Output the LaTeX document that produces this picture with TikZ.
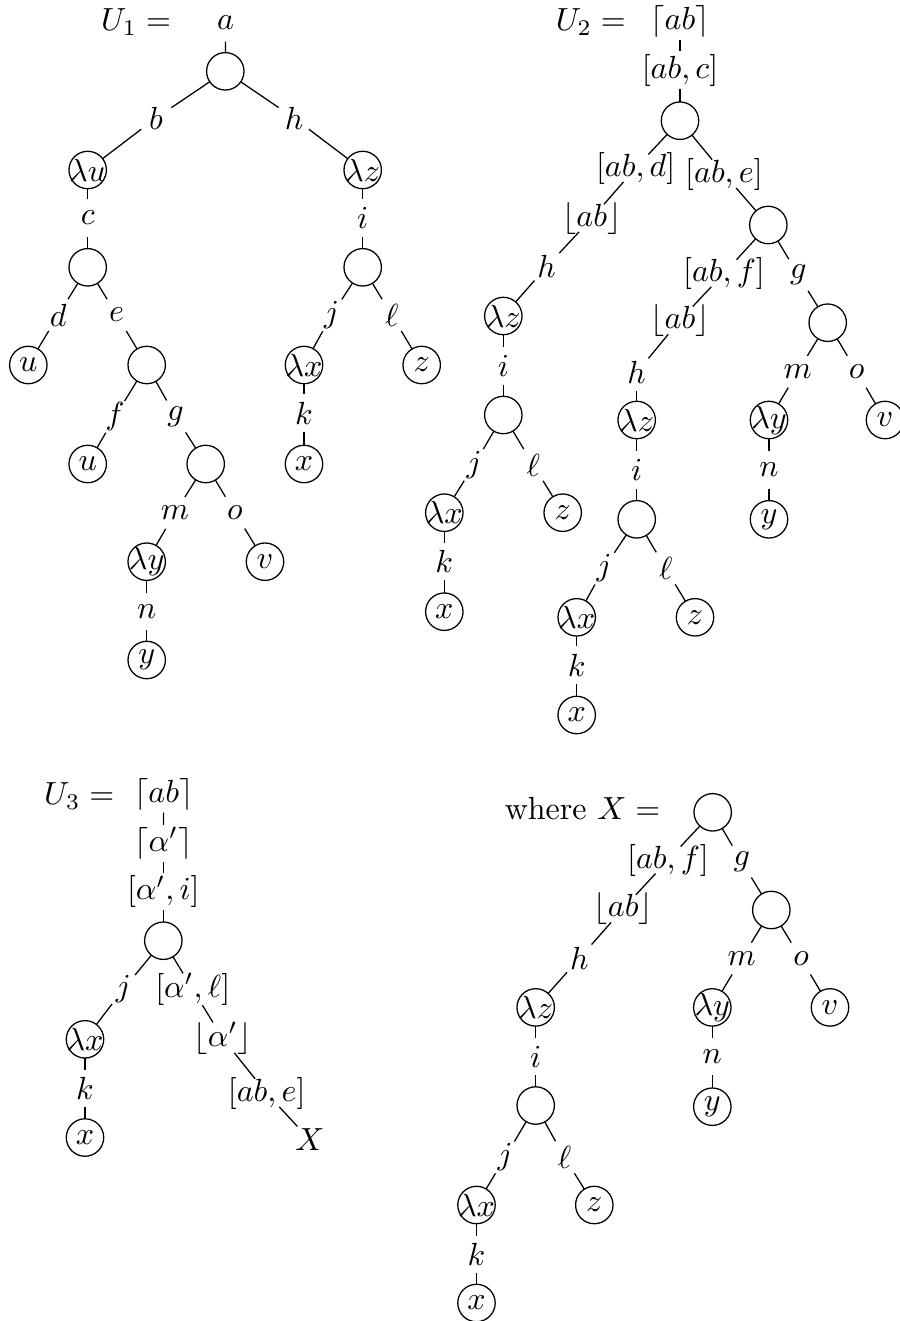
\documentclass[tikz,border=0pt]{standalone}
\usepackage{tikz}
\newcommand{\zw}[1]{\makebox[0pt]{$#1$}}
\tikzset{
  cn/.style={circle,draw,minimum size=11.7pt,inner sep=0pt},
  lb/.style={inner sep=0pt},
  edge/.style={shorten <=5.8pt,shorten >=5.8pt},
}
\begin{document}
\begin{tikzpicture}[x=0.3125pt,y=-0.3125pt]
\useasboundingbox (0,0) rectangle (899,1321);
% ---------------- U1
\node[lb] (u1lab) at (136,22) {$U_1 =$};
\node[lb] (a1) at (225.7,23) {$a$};
\node[cn] (r1) at (225.3,71.3) {};
\node[lb] (b1) at (156,118) {$b$};
\node[lb] (h1) at (294,118) {$h$};
\node[cn] (lu1) at (87.7,170) {\zw{\lambda u}};
\node[cn] (lz1) at (362.7,170) {\zw{\lambda z}};
\node[lb] (c1) at (87.7,218) {$c$};
\node[lb] (i1) at (362.7,218) {$i$};
\node[cn] (ca) at (87.7,267.3) {};
\node[cn] (cb) at (362.7,267.3) {};
\node[lb] (d1) at (58.3,315) {$d$};
\node[lb] (e1) at (116.7,315) {$e$};
\node[lb] (j1) at (331.7,315) {$j$};
\node[lb] (l1) at (391.7,315) {$\ell$};
\node[cn] (u1a) at (28.3,365) {\zw{u}};
\node[cn] (cc) at (146.7,365) {};
\node[cn] (lx1) at (304,365) {\zw{\lambda x}};
\node[cn] (z1) at (421.7,365) {\zw{z}};
\node[lb] (f1) at (115,416.7) {$f$};
\node[lb] (g1) at (175.7,416.7) {$g$};
\node[lb] (k1) at (304,413) {$k$};
\node[cn] (u1b) at (87.7,464) {\zw{u}};
\node[cn] (cd) at (205.7,464) {};
\node[cn] (x1) at (304,464) {\zw{x}};
\node[lb] (m1) at (175,512.7) {$m$};
\node[lb] (o1) at (235,512.7) {$o$};
\node[cn] (ly1) at (146.7,561.7) {\zw{\lambda y}};
\node[cn] (v1) at (265,561.7) {\zw{v}};
\node[lb] (n1) at (146.7,611.7) {$n$};
\node[cn] (y1) at (146.7,660) {\zw{y}};
\foreach \p/\q in {a1/r1,r1/b1,b1/lu1,r1/h1,h1/lz1,lu1/c1,c1/ca,lz1/i1,i1/cb,
  ca/d1,d1/u1a,ca/e1,e1/cc,cb/j1,j1/lx1,cb/l1,l1/z1,cc/f1,f1/u1b,cc/g1,g1/cd,
  lx1/k1,k1/x1,cd/m1,m1/ly1,cd/o1,o1/v1,ly1/n1,n1/y1}
  \draw[edge] (\p.center) -- (\q.center);
% ---------------- U2
\node[lb] (u2lab) at (590.8,22) {$U_2 =$};
\node[lb] (t2) at (680,21.7) {$\lceil ab\rceil$};
\node[lb] (abc2) at (680,70) {$[ab,c]$};
\node[cn] (r2) at (680,120.7) {};
\node[lb] (abd2) at (635.7,168) {$[ab,d]$};
\node[lb] (abe2) at (724,174) {$[ab,e]$};
\node[lb] (fl2) at (591.7,218.3) {$\lfloor ab\rfloor$};
\node[lb] (h2) at (546.7,266.7) {$h$};
\node[cn] (lz2) at (503.3,316) {\zw{\lambda z}};
\node[lb] (i2) at (503.3,366) {$i$};
\node[cn] (c2a) at (503.3,415) {};
\node[lb] (j2) at (474,465) {$j$};
\node[lb] (l2) at (533.3,465) {$\ell$};
\node[cn] (lx2) at (444.3,512.7) {\zw{\lambda x}};
\node[cn] (z2) at (562.7,512.7) {\zw{z}};
\node[lb] (k2) at (444.3,561.7) {$k$};
\node[cn] (x2) at (444.3,611.7) {\zw{x}};
\node[cn] (cR2) at (768.3,225) {};
\node[lb] (abf2) at (724,273.3) {$[ab,f]$};
\node[lb] (g2) at (798.3,275) {$g$};
\node[lb] (fl2b) at (680,320) {$\lfloor ab\rfloor$};
\node[cn] (c2g) at (827.7,322.7) {};
\node[lb] (h2b) at (636.7,372.7) {$h$};
\node[lb] (m2) at (797.7,371.7) {$m$};
\node[lb] (o2) at (856.7,371.7) {$o$};
\node[cn] (lz2b) at (636.7,420) {\zw{\lambda z}};
\node[cn] (ly2) at (769,420) {\zw{\lambda y}};
\node[cn] (v2) at (885,420) {\zw{v}};
\node[lb] (i2b) at (636.7,470) {$i$};
\node[lb] (n2) at (769,470) {$n$};
\node[cn] (c2c) at (636.7,519.3) {};
\node[cn] (y2) at (769,519.3) {\zw{y}};
\node[lb] (j2b) at (604,568.3) {$j$};
\node[lb] (l2b) at (665.7,568.3) {$\ell$};
\node[cn] (lx2b) at (576.7,617.3) {\zw{\lambda x}};
\node[cn] (z2b) at (695,617.3) {\zw{z}};
\node[lb] (k2b) at (576.7,665) {$k$};
\node[cn] (x2b) at (576.7,715) {\zw{x}};
\foreach \p/\q in {t2/abc2,abc2/r2,r2/abd2,abd2/fl2,fl2/h2,h2/lz2,lz2/i2,i2/c2a,
  c2a/j2,j2/lx2,c2a/l2,l2/z2,lx2/k2,k2/x2,r2/abe2,abe2/cR2,cR2/abf2,abf2/fl2b,
  fl2b/h2b,h2b/lz2b,lz2b/i2b,i2b/c2c,c2c/j2b,j2b/lx2b,c2c/l2b,l2b/z2b,lx2b/k2b,
  k2b/x2b,cR2/g2,g2/c2g,c2g/m2,m2/ly2,c2g/o2,o2/v2,ly2/n2,n2/y2}
  \draw[edge] (\p.center) -- (\q.center);
% ---------------- U3
\node[lb] (u3lab) at (79.2,796) {$U_3 =$};
\node[lb] (t3) at (163.8,794) {$\lceil ab\rceil$};
\node[lb] (al3) at (163.3,843.3) {$\lceil \alpha'\rceil$};
\node[lb] (ai3) at (163.3,891.7) {$[\alpha',i]$};
\node[cn] (r3) at (163.3,940.7) {};
\node[lb] (j3) at (123.3,989.3) {$j$};
\node[lb] (al3b) at (192.7,989.3) {$[\alpha',\ell]$};
\node[cn] (lx3) at (85,1039.3) {\zw{\lambda x}};
\node[lb] (fa3) at (222.7,1038.3) {$\lfloor \alpha'\rfloor$};
\node[lb] (k3) at (85,1088.3) {$k$};
\node[lb] (abe3) at (266.7,1093.3) {$[ab,e]$};
\node[cn] (x3) at (85,1137.5) {\zw{x}};
\node[lb] (X3) at (310,1140) {$X$};
\foreach \p/\q in {t3/al3,al3/ai3,ai3/r3,r3/j3,j3/lx3,r3/al3b,al3b/fa3,fa3/abe3,
  abe3/X3,lx3/k3,k3/x3}
  \draw[edge] (\p.center) -- (\q.center);
% ---------------- X
\node[lb] (wX) at (582.5,809) {where $X =$};
\node[cn] (rX) at (712.7,812.3) {};
\node[lb] (abfX) at (668,860) {$[ab,f]$};
\node[lb] (gX) at (741.7,861.7) {$g$};
\node[lb] (flX) at (623.3,908.5) {$\lfloor ab\rfloor$};
\node[cn] (cX) at (771.3,910) {};
\node[lb] (hX) at (579.3,958.5) {$h$};
\node[lb] (mX) at (741.7,958.5) {$m$};
\node[lb] (oX) at (801,958.5) {$o$};
\node[cn] (lzX) at (535.7,1007.4) {\zw{\lambda z}};
\node[cn] (lyX) at (712.3,1007.4) {\zw{\lambda y}};
\node[cn] (vX) at (830,1007.4) {\zw{v}};
\node[lb] (iX) at (535.7,1056.7) {$i$};
\node[lb] (nX) at (712.3,1056.7) {$n$};
\node[cn] (cX2) at (535.7,1105.5) {};
\node[cn] (yX) at (712.3,1106.7) {\zw{y}};
\node[lb] (jX) at (505,1157.5) {$j$};
\node[lb] (lX) at (564.5,1157.5) {$\ell$};
\node[cn] (lxX) at (476.5,1205) {\zw{\lambda x}};
\node[cn] (zX) at (594.3,1205) {\zw{z}};
\node[lb] (kX) at (476.5,1254.5) {$k$};
\node[cn] (xX) at (476.5,1303) {\zw{x}};
\foreach \p/\q in {rX/abfX,abfX/flX,flX/hX,hX/lzX,lzX/iX,iX/cX2,cX2/jX,jX/lxX,
  cX2/lX,lX/zX,lxX/kX,kX/xX,rX/gX,gX/cX,cX/mX,mX/lyX,cX/oX,oX/vX,lyX/nX,nX/yX}
  \draw[edge] (\p.center) -- (\q.center);
\end{tikzpicture}
\end{document}
